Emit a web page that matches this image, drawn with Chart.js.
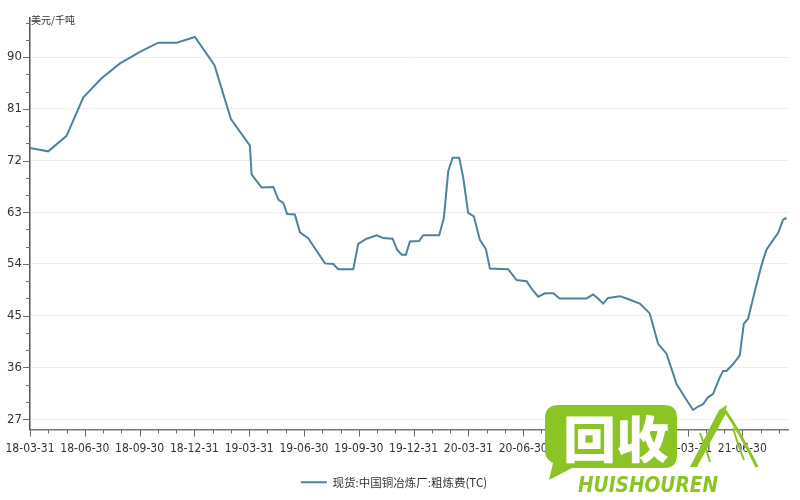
<!DOCTYPE html>
<html>
<head>
<meta charset="utf-8">
<script src="https://cdn.jsdelivr.net/npm/chart.js@4.4.1/dist/chart.umd.min.js"></script>
<style>
  html, body { margin:0; padding:0; background:#fff; }
  #wrap { position:relative; width:800px; height:500px; }
  #chart { position:absolute; left:0; top:0; }
  .wm { position:absolute; left:0; top:0; pointer-events:none; }
</style>
</head>
<body>
<div id="wrap">
  <canvas id="chart" width="800" height="500"></canvas>
  <svg class="wm" width="800" height="500">
    <path d="M559,405 H664 Q677,405 677,418 V455 Q677,468 664,468 H572 L549,480 L553,463 Q545,459 545,452 V418 Q545,405 559,405 Z" fill="#8cc426"/>
    <text x="616" y="458" font-family="Noto Sans CJK SC" font-weight="900" font-size="50" fill="#fff" text-anchor="middle" textLength="106" lengthAdjust="spacingAndGlyphs">回收</text>
    <text x="578" y="492" font-family="DejaVu Sans" font-weight="bold" font-style="italic" font-size="21" fill="#8cc426" textLength="140" lengthAdjust="spacingAndGlyphs">HUISHOUREN</text>
    <path d="M690,467 L719,410 L727,405 L725,415 L697,467 Z" fill="#8cc426"/>
    <path d="M724,409 Q740,432 757,467" stroke="#8cc426" stroke-width="3" fill="none"/>
    <path d="M700,433 Q706,448 710,462" stroke="#8cc426" stroke-width="2" fill="none"/>
    <path d="M733,428 Q738,445 744,460" stroke="#8cc426" stroke-width="2" fill="none"/>
  </svg>
</div>
<script>
// ─── Data ─────────────────────────────────────────────────────────────────────
// x = months since 18-03-31, y = TC (美元/千吨)
const MONTHS = [
  0, 1.0, 2.0, 2.92, 3.92, 4.93, 6.02, 7.02, 8.03, 9.03,
  10.1, 11.0, 12.04, 12.13, 12.68, 13.32, 13.6, 13.87, 14.08, 14.5,
  14.78, 15.23, 16.15, 16.6, 16.88, 17.7, 17.97, 18.43, 18.98, 19.34,
  19.85, 20.1, 20.35, 20.58, 20.8, 21.3, 21.53, 22.4, 22.66, 22.9,
  23.14, 23.5, 23.72, 23.99, 24.3, 24.63, 24.96, 25.18, 26.18, 26.64,
  27.19, 27.46, 27.82, 28.2, 28.65, 29.0, 30.47, 30.83, 31.1, 31.38,
  31.65, 32.3, 32.66, 33.39, 33.93, 34.39, 34.85, 35.4, 35.85, 36.3,
  36.58, 36.85, 37.12, 37.4, 37.77, 37.95, 38.13, 38.5, 38.86, 39.08,
  39.32, 39.68, 40.05, 40.32, 40.69, 40.96, 41.23, 41.42
];
const TC = [
  74.2, 73.6, 76.3, 83.0, 86.3, 88.9, 90.9, 92.5, 92.5, 93.5,
  88.6, 79.2, 74.6, 69.6, 67.3, 67.4, 65.2, 64.6, 62.7, 62.6,
  59.5, 58.5, 54.1, 54.0, 53.1, 53.1, 57.5, 58.4, 59.0, 58.5,
  58.4, 56.5, 55.6, 55.6, 57.9, 58.0, 59.0, 59.0, 62.0, 70.2,
  72.5, 72.5, 69.0, 62.9, 62.3, 58.2, 56.6, 53.2, 53.1, 51.2,
  51.0, 49.7, 48.3, 48.9, 48.9, 48.0, 48.0, 48.7, 48.0, 47.1,
  48.1, 48.4, 48.0, 47.1, 45.4, 40.1, 38.4, 33.1, 30.8, 28.6,
  29.2, 29.6, 30.8, 31.4, 34.3, 35.4, 35.4, 36.6, 38.1, 43.6,
  44.5, 49.2, 53.8, 56.5, 58.2, 59.4, 61.7, 62.0
];
const QUARTER_LABELS = [
  '18-03-31','18-06-30','18-09-30','18-12-31','19-03-31','19-06-30','19-09-30',
  '19-12-31','20-03-31','20-06-30','20-09-30','20-12-31','21-03-31','21-06-30'
];
const Y_TICKS = [27, 36, 45, 54, 63, 72, 81, 90];
const SERIES_NAME = '现货:中国铜冶炼厂:粗炼费(TC)';
const Y_UNIT = '美元/千吨';

const LINE_COLOR = '#4f8399';
const TXT = '#333';
const FAMILY = '"Liberation Sans Narrow","DejaVu Sans Condensed",sans-serif';
const X_MAX = 41.5;

// ─── Tick marks (major + minor) and unit label ────────────────────────────────
const axisMarks = {
  id: 'axisMarks',
  afterDraw(chart) {
    const { ctx, scales:{ x, y }, chartArea:a } = chart;
    ctx.save();
    ctx.strokeStyle = '#6b6b6b';
    ctx.lineWidth = 1;
    ctx.beginPath();
    for (let m = 0; m <= Math.floor(X_MAX); m++) {
      const px = Math.round(x.getPixelForValue(m)) + 0.5;
      const len = m % 3 === 0 ? 7 : 4;
      ctx.moveTo(px, a.bottom); ctx.lineTo(px, a.bottom + len);
    }
    for (let v = 27; v <= 96; v += 3) {
      const py = Math.round(y.getPixelForValue(v)) + 0.5;
      const len = (v - 27) % 9 === 0 ? 7 : 4;
      ctx.moveTo(a.left, py); ctx.lineTo(a.left - len, py);
    }
    ctx.stroke();

    ctx.fillStyle = TXT;
    ctx.font = '10px "Noto Sans CJK SC", sans-serif';
    ctx.textBaseline = 'middle';
    ctx.fillText(Y_UNIT, a.left + 1, 20);
    ctx.restore();
  }
};

new Chart(document.getElementById('chart'), {
  type: 'line',
  data: {
    datasets: [{
      label: SERIES_NAME,
      data: MONTHS.map((m, i) => ({ x: m, y: TC[i] })),
      borderColor: LINE_COLOR,
      backgroundColor: LINE_COLOR,
      borderWidth: 2,
      pointRadius: 0,
      tension: 0,
    }]
  },
  options: {
    responsive: false,
    animation: false,
    layout: { padding: { top: 18, right: 12, bottom: 2, left: 0 } },
    plugins: {
      tooltip: { enabled: false },
      legend: {
        position: 'bottom',
        labels: {
          color: TXT,
          font: { family:'"Noto Sans CJK SC", sans-serif', size: 11.5 },
          boxWidth: 26, boxHeight: 2, padding: 10,
          generateLabels(chart) {
            const items = Chart.defaults.plugins.legend.labels.generateLabels(chart);
            items.forEach(it => { it.lineWidth = 0; it.fillStyle = LINE_COLOR; });
            return items;
          }
        }
      }
    },
    scales: {
      x: {
        type: 'linear', min: 0, max: X_MAX,
        afterBuildTicks: s => { s.ticks = QUARTER_LABELS.map((_, i) => ({ value: i * 3 })); },
        afterFit: s => { s.height = 37; },
        grid: { drawOnChartArea: false, tickLength: 8, tickColor: 'transparent' },
        border: { color: '#777', width: 1.5 },
        ticks: {
          color: TXT, font: { family: FAMILY, size: 12 }, padding: 4, maxRotation: 0, autoSkip: false,
          callback: v => QUARTER_LABELS[Math.round(v / 3)]
        }
      },
      y: {
        min: 25.2, max: 96.8,
        afterBuildTicks: s => { s.ticks = Y_TICKS.map(v => ({ value: v })); },
        afterFit: s => { s.width = 30; },
        grid: { color: '#ededed', tickLength: 8, tickColor: 'transparent' },
        border: { color: '#555', width: 1.5 },
        ticks: { color: TXT, font: { family: FAMILY, size: 13 }, padding: 0 }
      }
    }
  },
  plugins: [axisMarks]
});
</script>
</body>
</html>
